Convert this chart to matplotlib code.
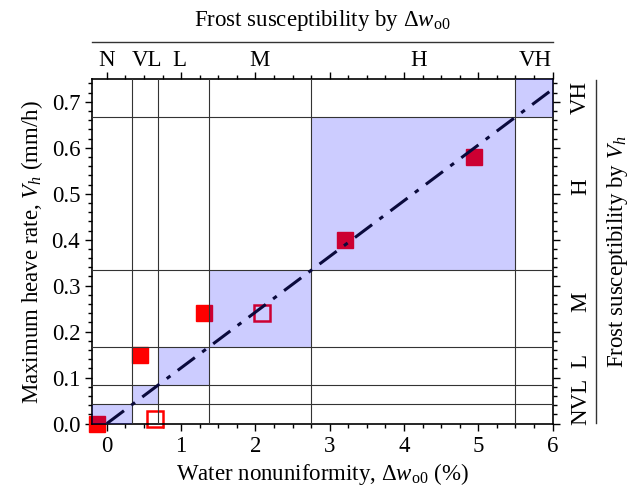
import matplotlib
matplotlib.use("Agg")
import matplotlib.pyplot as plt
from matplotlib.patches import Rectangle
from matplotlib.ticker import MultipleLocator

plt.rcParams["font.family"] = ["Liberation Serif", "DejaVu Serif"]
plt.rcParams["mathtext.fontset"] = "custom"
plt.rcParams["mathtext.rm"] = "Liberation Serif"
plt.rcParams["mathtext.it"] = "Liberation Serif:italic"

# class boundaries (Vh in mm/h, dw in %)
vh_bounds = [1 / 24, 2 / 24, 4 / 24, 8 / 24, 16 / 24]
dw_bounds = [v * 8.25 for v in vh_bounds]
class_names = ["N", "VL", "L", "M", "H", "VH"]
top_label_x = [0.0, 0.54, 0.97, 2.06, 4.2, 5.77]
right_labels = ["NVL", "L", "M", "H", "VH"]
right_label_y = [0.049, 0.136, 0.265, 0.515, 0.709]

# measured points
filled_dw = [-0.13, 0.45, 1.31, 3.21, 4.94]
filled_vh = [0.0, 0.15, 0.24, 0.40, 0.58]
open_dw = [0.65, 2.09]
open_vh = [0.01, 0.24]

line_dw = [0.0, 6.0]

XMIN, XMAX = -0.2, 6.0
YMIN, YMAX = -0.002, 0.75
FS = 16.5

fig = plt.figure(figsize=(6.41, 4.93), dpi=100)
ax = fig.add_axes([0.1435, 0.139, 0.7185, 0.701])

# points first, shading goes over them (gives the darker red inside boxes)
ax.plot(filled_dw, filled_vh, "s", color="red", ms=11.5, mec="red", zorder=2, clip_on=False)
ax.plot(open_dw, open_vh, "s", mfc="white", mec="red", ms=11, mew=1.8, zorder=2, clip_on=False)

# diagonal shaded boxes
xs = [XMIN] + dw_bounds + [XMAX]
ys = [YMIN] + vh_bounds + [YMAX]
for i in range(len(xs) - 1):
    ax.add_patch(Rectangle((xs[i], ys[i]), xs[i + 1] - xs[i], ys[i + 1] - ys[i],
                           facecolor="blue", alpha=0.2, edgecolor="none", zorder=3))

for v in dw_bounds:
    ax.axvline(v, color="#333333", lw=0.8, zorder=4)
for v in vh_bounds:
    ax.axhline(v, color="#333333", lw=0.8, zorder=4)

ax.plot(line_dw, [d / 8.25 for d in line_dw], color="#0a0a3c", lw=2.2,
        dashes=(7, 3, 1.5, 3), zorder=5)

ax.set_xlim(XMIN, XMAX)
ax.set_ylim(YMIN, YMAX)
ax.xaxis.set_major_locator(MultipleLocator(1))
ax.xaxis.set_minor_locator(MultipleLocator(0.25))
ax.yaxis.set_major_locator(MultipleLocator(0.1))
ax.yaxis.set_minor_locator(MultipleLocator(0.02))
ax.yaxis.set_major_formatter(matplotlib.ticker.FormatStrFormatter("%.1f"))
ax.tick_params(which="both", direction="out", top=True, right=True, width=1.0, labelsize=FS)
ax.tick_params(which="major", length=5)
ax.tick_params(which="minor", length=3)
for s in ax.spines.values():
    s.set_linewidth(1.2)

ax.set_xlabel(r"Water nonuniformity, $\Delta w_{\rm o0}$ (%)", fontsize=FS, labelpad=3)
ax.set_ylabel(r"Maximum heave rate, $V_h$ (mm/h)", fontsize=FS, labelpad=5)

# top classification
xt = ax.get_xaxis_transform()
for name, x in zip(class_names, top_label_x):
    ax.text(x, 1.052, name, transform=xt, ha="center", va="center", fontsize=FS)
ax.plot([0, 1], [1.107, 1.107], transform=ax.transAxes, color="#333333", lw=1.0, clip_on=False)
ax.text(0.5, 1.168, r"Frost susceptibility by $\Delta w_{\rm o0}$", transform=ax.transAxes,
        ha="center", va="center", fontsize=FS)

# right classification
yt = ax.get_yaxis_transform()
for name, y in zip(right_labels, right_label_y):
    ax.text(1.061, y, name, transform=yt, ha="center", va="center", rotation=90, fontsize=FS)
ax.plot([1.094, 1.094], [0.004, 0.997], transform=ax.transAxes, color="#333333", lw=1.0,
        clip_on=False)
ax.text(1.14, 0.5, r"Frost susceptibility by $V_h$", transform=ax.transAxes,
        ha="center", va="center", rotation=90, fontsize=FS)

fig.savefig("out.png", dpi=100)
